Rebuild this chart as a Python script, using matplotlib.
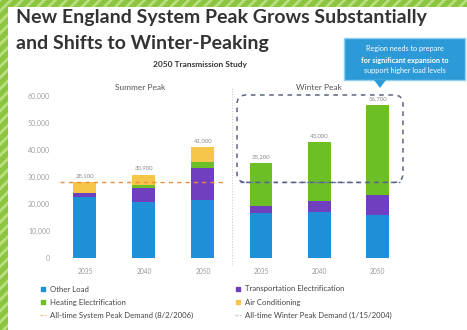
import matplotlib
matplotlib.use("Agg")
import matplotlib.pyplot as plt
import numpy as np
from matplotlib.patches import Rectangle, FancyBboxPatch, Polygon
from matplotlib.lines import Line2D
from matplotlib.transforms import IdentityTransform

plt.rcParams['font.family'] = ['Lato', 'DejaVu Sans']
plt.rcParams['hatch.linewidth'] = 2.0

# ---- data (MW) ----
years = ['2035', '2040', '2050']
summer_other = [22600, 20700, 21500]
summer_transport = [1500, 5200, 12000]
summer_heating = [0, 1000, 2000]
summer_ac = [4000, 4000, 5500]
winter_other = [16700, 17000, 16000]
winter_transport = [2500, 4000, 7400]
winter_heating = [16000, 22000, 33300]
winter_ac = [0, 0, 0]
system_peak = 28000
winter_line = 28000
yticks = [0, 10000, 20000, 30000, 40000, 50000, 60000]

series_names = ['Other Load', 'Transportation Electrification',
                'Heating Electrification', 'Air Conditioning']
colors = ['#1f8fd8', '#6f3fc0', '#6cbf25', '#f6c64a']

W, H = 467, 330
fig = plt.figure(figsize=(W / 100, H / 100), dpi=100)
fig.patch.set_facecolor('white')

def fx(x):
    return x / W

def fy(y):
    return 1 - y / H

# striped border on the top and left of the slide
for rect in [(0, 0, W, 7), (0, 0, 8, H)]:
    x0, y0, w, h = rect
    fig.patches.append(Rectangle((fx(x0), fy(y0 + h)), w / W, h / H,
                                 transform=fig.transFigure,
                                 facecolor='#8cc540', edgecolor='#b9df7f',
                                 hatch='///', linewidth=0, zorder=0))

# titles
fig.text(fx(16), fy(17), 'New England System Peak Grows Substantially',
         fontsize=14, fontweight='bold', color='#333333', va='center', ha='left')
fig.text(fx(16), fy(43), 'and Shifts to Winter-Peaking',
         fontsize=14, fontweight='bold', color='#333333', va='center', ha='left')
fig.text(fx(200), fy(64), '2050 Transmission Study', fontsize=6,
         fontweight='bold', color='#333333', ha='center', va='center')
fig.text(fx(140), fy(87), 'Summer Peak', fontsize=6, color='#555555',
         ha='center', va='center')
fig.text(fx(319), fy(87), 'Winter Peak', fontsize=6, color='#555555',
         ha='center', va='center')

# panel axes
ax_s = fig.add_axes([fx(55), fy(258), (230 - 55) / W, (258 - 96) / H])
ax_w = fig.add_axes([fx(237), fy(258), (403 - 237) / W, (258 - 96) / H])

x = np.arange(len(years))
bw = 0.39

def stack(ax, parts):
    bottom = np.zeros(len(years))
    for vals, c in zip(parts, colors):
        v = np.array(vals, dtype=float)
        ax.bar(x, v, bw, bottom=bottom, color=c, linewidth=0, zorder=2)
        bottom += v
    for xi, t in zip(x, bottom):
        ax.annotate(f'{int(t):,}', (xi, t), xytext=(0, 3),
                    textcoords='offset points', ha='center', va='bottom',
                    fontsize=4.3, color='#8a8a8a')
    return bottom

stack(ax_s, [summer_other, summer_transport, summer_heating, summer_ac])
stack(ax_w, [winter_other, winter_transport, winter_heating, winter_ac])

ax_s.set_xlim(-0.508, 2.458)
ax_w.set_xlim(-0.41, 2.43)
for ax in (ax_s, ax_w):
    ax.set_ylim(0, 60000)
    ax.set_facecolor('none')
    for s in ax.spines.values():
        s.set_visible(False)
    ax.set_xticks(x)
    ax.set_xticklabels(years)
    ax.tick_params(axis='x', length=0, pad=7, labelsize=4.8, labelcolor='#999999')
    ax.set_yticks(yticks)

ax_s.set_yticklabels([f'{v:,}' for v in yticks])
ax_s.tick_params(axis='y', length=0, pad=3.5, labelsize=5, labelcolor='#a0a0a0')
ax_w.tick_params(axis='y', length=0, labelleft=False)

# historical peak lines
ax_s.axhline(system_peak, xmin=0.03, xmax=0.97, color='#f08c3a',
             linestyle=(0, (3, 3)), linewidth=1.0, zorder=3)
ax_w.axhline(winter_line, xmin=0.02, xmax=0.98, color='#6878b2',
             linestyle=(0, (3, 3)), linewidth=1.0, zorder=3)

# panel divider
fig.add_artist(Line2D([fx(232), fx(232)], [fy(88), fy(266)],
                      transform=fig.transFigure, color='#cccccc',
                      linewidth=0.8, linestyle=(0, (1, 1.5))))

# highlight box around winter growth
fig.canvas.draw()
y_bottom = ax_w.transData.transform((0, winter_line))[1]
y_top = H - 95
fig.patches.append(FancyBboxPatch((237, y_bottom), 166, y_top - y_bottom,
                                  boxstyle='round,pad=0,rounding_size=9',
                                  transform=IdentityTransform(),
                                  facecolor='none', edgecolor='#5a6480',
                                  linewidth=1.1, linestyle=(0, (3, 3)), zorder=5))

# callout
fig.patches.append(FancyBboxPatch((344, H - 80), 121, 42,
                                  boxstyle='square,pad=0',
                                  transform=IdentityTransform(),
                                  facecolor='#2b9ad6', edgecolor='#8fd0f2',
                                  linewidth=1.0, zorder=6))
fig.patches.append(Polygon([(374, H - 80), (386, H - 80), (380, H - 88)],
                           closed=True, transform=IdentityTransform(),
                           facecolor='#2b9ad6', edgecolor='none', zorder=6))
callout = ['Region needs to prepare', 'for significant expansion to',
           'support higher load levels']
for i, line in enumerate(callout):
    fig.text(fx(405), fy(49 + i * 11), line, fontsize=5.2, color='white',
             ha='center', va='center', zorder=7,
             fontweight='bold' if i == 1 else 'normal')

# legend
legend_rows = [
    (43, 289, colors[0], 'Other Load', 'sq'),
    (238, 289, colors[1], 'Transportation Electrification', 'sq'),
    (43, 302, colors[2], 'Heating Electrification', 'sq'),
    (238, 302, colors[3], 'Air Conditioning', 'sq'),
    (43, 315, '#f0c89a', 'All-time System Peak Demand (8/2/2006)', 'ln'),
    (238, 315, '#c8cde0', 'All-time Winter Peak Demand (1/15/2004)', 'ln'),
]
for lx, ly, c, label, kind in legend_rows:
    if kind == 'sq':
        fig.add_artist(Line2D([fx(lx)], [fy(ly)], marker='s', markersize=3.2,
                              color=c, transform=fig.transFigure))
    else:
        fig.add_artist(Line2D([fx(lx - 3), fx(lx + 3)], [fy(ly), fy(ly)],
                              color=c, linewidth=1, linestyle=(0, (2, 1)),
                              transform=fig.transFigure))
    fig.text(fx(lx + 7), fy(ly), label, fontsize=5.6, color='#444444',
             ha='left', va='center')

fig.savefig('out.png', dpi=100)
